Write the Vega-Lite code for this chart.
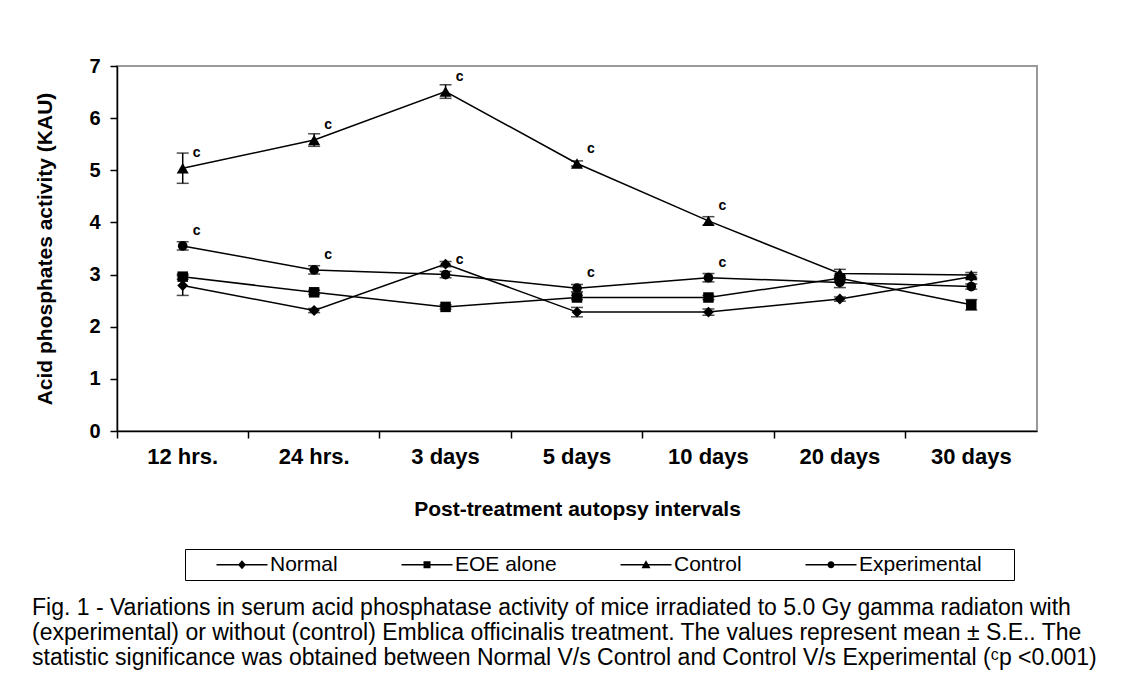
{
  "$schema": "https://vega.github.io/schema/vega-lite/v6.json",
  "width": 920,
  "height": 365,
  "autosize": {"type": "none"},
  "padding": {"left": 117, "top": 66, "right": 88, "bottom": 268},
  "background": "white",
  "config": {
    "font": "Liberation Sans",
    "view": {"stroke": "#999999", "strokeWidth": 2}
  },
  "title": {
    "text": [
      "Fig. 1 - Variations in serum acid phosphatase activity of mice irradiated to 5.0 Gy gamma radiaton with",
      "(experimental) or without (control) Emblica officinalis treatment. The values represent  mean ± S.E.. The",
      "statistic significance was obtained between Normal V/s Control and Control V/s  Experimental (ᶜp <0.001)"
    ],
    "orient": "bottom",
    "anchor": "start",
    "frame": "group",
    "font": "Liberation Sans",
    "fontSize": 23,
    "fontWeight": "normal",
    "lineHeight": 25,
    "offset": 16,
    "dx": -85,
    "color": "black"
  },
  "data": {
    "values": [
      {"time": "12 hrs.", "series": "Normal", "mean": 2.79, "se": 0.19, "sig": ""},
      {"time": "24 hrs.", "series": "Normal", "mean": 2.31, "se": 0.04, "sig": ""},
      {"time": "3 days", "series": "Normal", "mean": 3.2, "se": 0.05, "sig": ""},
      {"time": "5 days", "series": "Normal", "mean": 2.28, "se": 0.09, "sig": ""},
      {"time": "10 days", "series": "Normal", "mean": 2.28, "se": 0.06, "sig": ""},
      {"time": "20 days", "series": "Normal", "mean": 2.53, "se": 0.04, "sig": ""},
      {"time": "30 days", "series": "Normal", "mean": 2.96, "se": 0.04, "sig": ""},
      {"time": "12 hrs.", "series": "EOE alone", "mean": 2.96, "se": 0.05, "sig": ""},
      {"time": "24 hrs.", "series": "EOE alone", "mean": 2.66, "se": 0.04, "sig": ""},
      {"time": "3 days", "series": "EOE alone", "mean": 2.38, "se": 0.04, "sig": ""},
      {"time": "5 days", "series": "EOE alone", "mean": 2.56, "se": 0.04, "sig": ""},
      {"time": "10 days", "series": "EOE alone", "mean": 2.56, "se": 0.04, "sig": ""},
      {"time": "20 days", "series": "EOE alone", "mean": 2.93, "se": 0.05, "sig": ""},
      {"time": "30 days", "series": "EOE alone", "mean": 2.42, "se": 0.1, "sig": ""},
      {"time": "12 hrs.", "series": "Control", "mean": 5.04, "se": 0.29, "sig": "c"},
      {"time": "24 hrs.", "series": "Control", "mean": 5.58, "se": 0.12, "sig": "c"},
      {"time": "3 days", "series": "Control", "mean": 6.51, "se": 0.13, "sig": "c"},
      {"time": "5 days", "series": "Control", "mean": 5.13, "se": 0.05, "sig": "c"},
      {"time": "10 days", "series": "Control", "mean": 4.03, "se": 0.08, "sig": "c"},
      {"time": "20 days", "series": "Control", "mean": 3.02, "se": 0.08, "sig": ""},
      {"time": "30 days", "series": "Control", "mean": 2.99, "se": 0.05, "sig": ""},
      {"time": "12 hrs.", "series": "Experimental", "mean": 3.55, "se": 0.08, "sig": "c"},
      {"time": "24 hrs.", "series": "Experimental", "mean": 3.09, "se": 0.08, "sig": "c"},
      {"time": "3 days", "series": "Experimental", "mean": 3.0, "se": 0.06, "sig": "c"},
      {"time": "5 days", "series": "Experimental", "mean": 2.74, "se": 0.07, "sig": "c"},
      {"time": "10 days", "series": "Experimental", "mean": 2.94, "se": 0.08, "sig": "c"},
      {"time": "20 days", "series": "Experimental", "mean": 2.85, "se": 0.1, "sig": ""},
      {"time": "30 days", "series": "Experimental", "mean": 2.77, "se": 0.05, "sig": ""}
    ]
  },
  "encoding": {
    "x": {
      "field": "time",
      "type": "nominal",
      "sort": ["12 hrs.", "24 hrs.", "3 days", "5 days", "10 days", "20 days", "30 days"],
      "scale": {"type": "band", "paddingInner": 0, "paddingOuter": 0},
      "axis": {
        "title": "Post-treatment autopsy intervals",
        "titleFont": "Liberation Sans",
        "titleFontSize": 21,
        "titleFontWeight": "bold",
        "titleColor": "black",
        "titlePadding": 31,
        "labelFont": "Liberation Sans",
        "labelFontSize": 22,
        "labelFontWeight": "bold",
        "labelColor": "black",
        "labelAngle": 0,
        "labelPadding": 8,
        "tickSize": 7,
        "tickColor": "black",
        "tickWidth": 1.5,
        "domainColor": "black",
        "domainWidth": 1.5,
        "bandPosition": 0,
        "grid": false
      }
    },
    "y": {
      "field": "mean",
      "type": "quantitative",
      "scale": {"domain": [0, 7]},
      "axis": {
        "title": "Acid phosphates activity (KAU)",
        "titleFont": "Liberation Sans",
        "titleFontSize": 21,
        "titleFontWeight": "bold",
        "titleColor": "black",
        "titlePadding": 33,
        "labelFont": "Liberation Sans",
        "labelFontSize": 20,
        "labelFontWeight": "bold",
        "labelColor": "black",
        "labelPadding": 10,
        "values": [0, 1, 2, 3, 4, 5, 6, 7],
        "tickSize": 7,
        "tickColor": "black",
        "tickWidth": 1.5,
        "domainColor": "black",
        "domainWidth": 1.5,
        "grid": false
      }
    }
  },
  "layer": [
    {
      "mark": {"type": "line", "color": "black", "strokeWidth": 1.5},
      "encoding": {"detail": {"field": "series", "type": "nominal"}, "order": {"value": null}}
    },
    {
      "mark": {
        "type": "errorbar",
        "color": "black",
        "ticks": {"size": 12, "thickness": 1.5, "color": "black"},
        "rule": {"strokeWidth": 1.5, "color": "black"}
      },
      "encoding": {
        "yError": {"field": "se"},
        "detail": {"field": "series", "type": "nominal"}
      }
    },
    {
      "transform": [{"filter": "datum.series == 'Normal'"}],
      "mark": {"type": "point", "shape": "diamond", "filled": true, "color": "black", "opacity": 1, "size": 120}
    },
    {
      "transform": [{"filter": "datum.series == 'EOE alone'"}],
      "mark": {"type": "point", "shape": "square", "filled": true, "color": "black", "opacity": 1, "size": 110}
    },
    {
      "transform": [{"filter": "datum.series == 'Control'"}],
      "mark": {"type": "point", "shape": "triangle-up", "filled": true, "color": "black", "opacity": 1, "size": 145}
    },
    {
      "transform": [{"filter": "datum.series == 'Experimental'"}],
      "mark": {"type": "point", "shape": "circle", "filled": true, "color": "black", "opacity": 1, "size": 95}
    },
    {
      "transform": [{"filter": "datum.sig == 'c'"}],
      "mark": {"type": "text", "dx": 14, "dy": -15, "fontWeight": "bold", "fontSize": 14, "font": "Liberation Sans", "color": "black"},
      "encoding": {"text": {"field": "sig", "type": "nominal"}}
    },
    {
      "transform": [{"filter": "false"}],
      "mark": {"type": "point", "filled": true, "color": "black", "opacity": 1, "size": 400},
      "encoding": {
        "shape": {
          "field": "series",
          "type": "nominal",
          "scale": {
            "domain": ["Normal", "EOE alone", "Control", "Experimental"],
            "range": [
              "M-1,-0.075H4.1V0.075H-1ZM1.55,-0.45L1.95,0L1.55,0.45L1.15,0Z",
              "M-1,-0.075H4.1V0.075H-1ZM1.2,-0.35H1.9V0.35H1.2Z",
              "M-1,-0.075H4.1V0.075H-1ZM1.55,-0.45L2,0.35L1.1,0.35Z",
              "M-1,-0.075H4.1V0.075H-1ZM1.2,0A0.35,0.35 0 1,1 1.9,0A0.35,0.35 0 1,1 1.2,0Z"
            ]
          },
          "legend": {
            "orient": "none",
            "legendX": 68,
            "legendY": 483,
            "direction": "horizontal",
            "title": " ",
            "titleOrient": "right",
            "titleFontSize": 1,
            "titlePadding": 27,
            "padding": 5,
            "symbolOffset": 26,
            "columnPadding": 37,
            "strokeColor": "black",
            "fillColor": "white",
            "symbolSize": 400,
            "symbolFillColor": "black",
            "symbolStrokeColor": "black",
            "symbolStrokeWidth": 0,
            "labelOffset": 33,
            "labelFont": "Liberation Sans",
            "labelFontSize": 21,
            "labelColor": "black",
            "labelLimit": 300
          }
        }
      }
    }
  ]
}
